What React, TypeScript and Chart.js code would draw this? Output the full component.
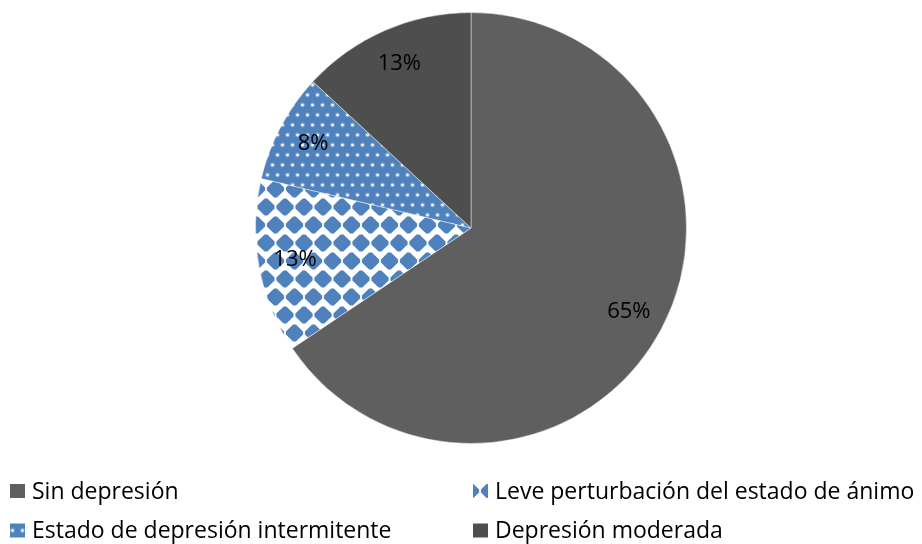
import React, { useEffect, useRef } from "react";
import { Chart, registerables } from "chart.js";

Chart.register(...registerables);

const categories = [
  "Sin depresión",
  "Leve perturbación del estado de ánimo",
  "Estado de depresión intermitente",
  "Depresión moderada",
];
const values = [40, 8, 5, 8];
const percentLabels = ["65%", "13%", "8%", "13%"];

const BLUE = "#4f81bd";
const TW = 19;
const TH = 36;

function drawDiamond(g: CanvasRenderingContext2D, cx: number, cy: number) {
  const R = 10;
  const C = 8.6;
  const pts: [number, number][] = [
    [cx - C, cy - (R - C)],
    [cx - (R - C), cy - C],
    [cx + (R - C), cy - C],
    [cx + C, cy - (R - C)],
    [cx + C, cy + (R - C)],
    [cx + (R - C), cy + C],
    [cx - (R - C), cy + C],
    [cx - C, cy + (R - C)],
  ];
  g.beginPath();
  pts.forEach(([x, y], i) => (i ? g.lineTo(x, y) : g.moveTo(x, y)));
  g.closePath();
  g.fill();
}

function diamondTile(): HTMLCanvasElement {
  const c = document.createElement("canvas");
  c.width = TW;
  c.height = TH;
  const g = c.getContext("2d")!;
  g.fillStyle = "#ffffff";
  g.fillRect(0, 0, TW, TH);
  g.fillStyle = BLUE;
  const centers = [
    [TW / 2, TH / 4],
    [0, (3 * TH) / 4],
    [TW, (3 * TH) / 4],
  ];
  for (const [x, y] of centers) {
    for (const dy of [-TH, 0, TH]) drawDiamond(g, x, y + dy);
  }
  return c;
}

function dotTile(): HTMLCanvasElement {
  const c = document.createElement("canvas");
  c.width = 10;
  c.height = 20;
  const g = c.getContext("2d")!;
  g.fillStyle = BLUE;
  g.fillRect(0, 0, 10, 20);
  const dots = [
    [2.5, 5],
    [7.5, 15],
  ];
  for (const [x, y] of dots) {
    g.fillStyle = "rgba(255,255,255,0.3)";
    g.beginPath();
    g.arc(x, y, 2.4, 0, Math.PI * 2);
    g.fill();
    g.fillStyle = "rgba(255,255,255,0.95)";
    g.beginPath();
    g.arc(x, y, 1.3, 0, Math.PI * 2);
    g.fill();
  }
  return c;
}

const FONT = "'Open Sans', 'Noto Sans', sans-serif";

export default function App() {
  const ref = useRef<HTMLCanvasElement | null>(null);

  useEffect(() => {
    document.body.style.margin = "0";
    const canvas = ref.current!;
    const ctx = canvas.getContext("2d")!;
    const dTile = diamondTile();
    const pTile = dotTile();
    const diamondPattern = ctx.createPattern(dTile, "repeat")!;
    const dotPattern = ctx.createPattern(pTile, "repeat")!;
    const colors: any[] = ["#5f5f5f", diamondPattern, dotPattern, "#4e4e4e"];

    const labelPlugin = {
      id: "pctLabels",
      afterDatasetsDraw(chart: any) {
        const meta = chart.getDatasetMeta(0);
        const c = chart.ctx;
        c.save();
        c.font = `22px ${FONT}`;
        c.fillStyle = "#000";
        c.textAlign = "center";
        c.textBaseline = "middle";
        meta.data.forEach((arc: any, i: number) => {
          const p = arc.getProps(["x", "y", "startAngle", "endAngle", "outerRadius"], true);
          const mid = (p.startAngle + p.endAngle) / 2;
          const r = p.outerRadius * 0.83;
          c.fillText(percentLabels[i], p.x + Math.cos(mid) * r, p.y + Math.sin(mid) * r);
        });
        c.restore();
      },
    };

    const legendPlugin = {
      id: "gridLegend",
      afterDraw(chart: any) {
        const c = chart.ctx;
        const colX = [10, 473];
        const rowY = [484, 523.5];
        const bw = 15;
        const bh = 14;
        c.save();
        c.font = `23px ${FONT}`;
        c.textBaseline = "middle";
        c.textAlign = "left";
        chart.data.labels.forEach((lab: string, i: number) => {
          const x = colX[i % 2];
          const y = rowY[Math.floor(i / 2)];
          let fill: any = colors[i];
          if (i === 1) {
            const pat = c.createPattern(dTile, "repeat");
            pat.setTransform(new DOMMatrix().translate(x - 2.5 - TW / 2, y + bh / 2 - TH / 4));
            fill = pat;
          } else if (i === 2) {
            const pat = c.createPattern(pTile, "repeat");
            pat.setTransform(new DOMMatrix().translate(x + 0, y + 2));
            fill = pat;
          }
          c.fillStyle = fill;
          c.fillRect(x, y, bw, bh);
          c.fillStyle = "#000";
          c.fillText(lab, x + bw + 7, y + bh / 2 + 1);
        });
        c.restore();
      },
    };

    const chart = new Chart(canvas, {
      type: "pie",
      data: {
        labels: categories,
        datasets: [
          {
            data: values,
            backgroundColor: colors,
            borderColor: "rgba(255,255,255,0.45)",
            borderWidth: 1,
          },
        ],
      },
      options: {
        responsive: false,
        animation: false,
        layout: { padding: { left: 255, right: 235, top: 12, bottom: 100 } },
        plugins: {
          legend: { display: false },
          tooltip: { enabled: false },
        },
      },
      plugins: [labelPlugin, legendPlugin],
    });
    return () => chart.destroy();
  }, []);

  return (
    <div style={{ position: "absolute", left: 0, top: 0, width: 922, height: 544, background: "#fff" }}>
      <canvas ref={ref} width={922} height={544} />
    </div>
  );
}
